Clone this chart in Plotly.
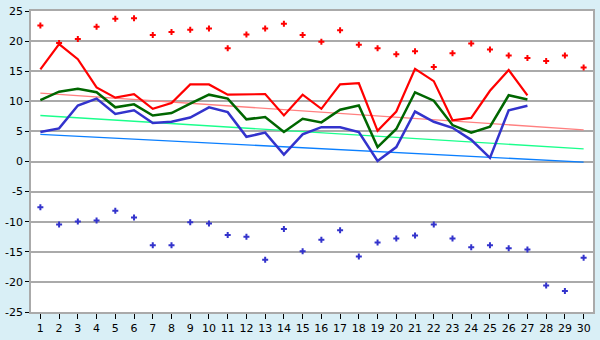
import plotly.graph_objects as go

days = list(range(1, 31))
line_days = list(range(1, 28))

# daily series (days 1-27)
upper_line = [15.3, 19.5, 17.0, 12.3, 10.6, 11.2, 8.75, 9.7, 12.8, 12.8,
              11.1, 11.2, 11.2, 7.65, 11.1, 8.75, 12.8, 13.0, 5.1, 8.3,
              15.4, 13.35, 6.85, 7.25, 11.75, 15.2, 11.0]
middle_line = [10.2, 11.6, 12.1, 11.5, 9.0, 9.5, 7.65, 8.05, 9.6, 11.1,
               10.45, 7.0, 7.4, 4.9, 7.1, 6.5, 8.6, 9.3, 2.4, 5.4,
               11.5, 10.1, 6.05, 4.8, 5.8, 11.0, 10.3]
lower_line = [4.9, 5.5, 9.3, 10.45, 7.9, 8.5, 6.4, 6.6, 7.3, 9.0,
              8.2, 4.1, 4.8, 1.15, 4.5, 5.7, 5.7, 4.9, 0.1, 2.4,
              8.3, 6.6, 5.6, 3.6, 0.6, 8.5, 9.25]

# extremes (days 1-30)
max_points = [22.6, 19.7, 20.35, 22.4, 23.7, 23.8, 21.0, 21.5, 21.9, 22.1,
              18.8, 21.1, 22.1, 22.9, 21.0, 19.9, 21.8, 19.4, 18.8, 17.8,
              18.3, 15.7, 18.0, 19.6, 18.6, 17.6, 17.2, 16.7, 17.6, 15.6]
min_points = [-7.6, -10.45, -9.97, -9.8, -8.2, -9.3, -13.9, -13.9, -10.1, -10.3,
              -12.2, -12.5, -16.3, -11.2, -14.9, -13.0, -11.4, -15.8, -13.45, -12.8,
              -12.3, -10.45, -12.8, -14.25, -13.9, -14.4, -14.6, -20.6, -21.5, -16.0]

# trend lines: value at day 1 and day 30
trend_days = [1, 30]
upper_trend = [11.35, 5.25]
middle_trend = [7.65, 2.1]
lower_trend = [4.5, -0.1]

y_ticks = [-25, -20, -15, -10, -5, 0, 5, 10, 15, 20, 25]

fig = go.Figure()

for vals, col in [(upper_trend, "#ff8080"), (middle_trend, "#1aff8c"), (lower_trend, "#0a7fff")]:
    fig.add_trace(go.Scatter(x=trend_days, y=vals, mode="lines",
                             line=dict(color=col, width=1.4), hoverinfo="skip"))

fig.add_trace(go.Scatter(x=line_days, y=lower_line, mode="lines",
                         line=dict(color="#3333cc", width=2.5)))
fig.add_trace(go.Scatter(x=line_days, y=middle_line, mode="lines",
                         line=dict(color="#006600", width=2.5)))
fig.add_trace(go.Scatter(x=line_days, y=upper_line, mode="lines",
                         line=dict(color="#ff0000", width=2.2)))

fig.add_trace(go.Scatter(x=days, y=max_points, mode="markers",
                         marker=dict(symbol="cross", size=5, color="#ff0000", line=dict(width=0))))
fig.add_trace(go.Scatter(x=days, y=min_points, mode="markers",
                         marker=dict(symbol="cross", size=5, color="#3333cc", line=dict(width=0))))

axis_font = dict(family="DejaVu Sans", size=11, color="#000000")

fig.update_layout(
    width=600, height=340,
    margin=dict(l=26, r=5, t=5, b=20),
    paper_bgcolor="#d9eff6",
    plot_bgcolor="#ffffff",
    showlegend=False,
    xaxis=dict(range=[0.5, 30.5], tickmode="array", tickvals=days,
               ticktext=[str(d) for d in days],
               showgrid=False, zeroline=False,
               ticks="outside", ticklen=5, tickcolor="#000000",
               showline=True, linecolor="#aaaaaa", linewidth=1.5, mirror=True,
               tickfont=axis_font, fixedrange=True),
    yaxis=dict(range=[-25, 25], tickmode="array", tickvals=y_ticks,
               ticktext=[str(v) for v in y_ticks],
               showgrid=True, gridcolor="#aaaaaa", gridwidth=1.5, zeroline=False,
               ticks="outside", ticklen=4, tickcolor="#000000",
               showline=True, linecolor="#aaaaaa", linewidth=1.5, mirror=True,
               tickfont=axis_font, fixedrange=True),
)

fig.write_html("out.html")
